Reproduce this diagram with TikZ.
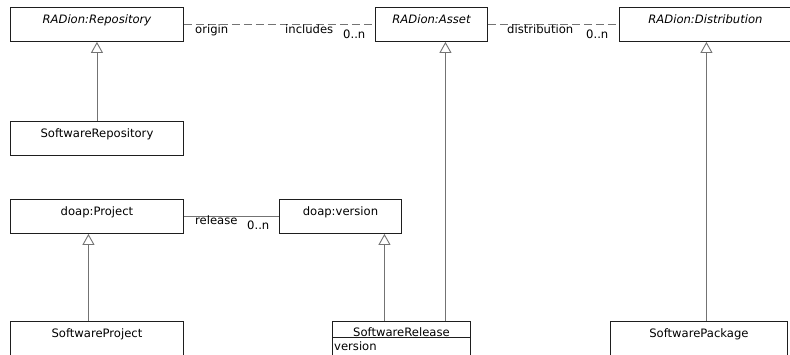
\documentclass[tikz,border=0pt]{standalone}
\usepackage{fontspec}
\setmainfont{DejaVu Sans}
\usetikzlibrary{arrows.meta}
\definecolor{linegray}{RGB}{115,115,115}
\definecolor{boxline}{RGB}{30,30,30}
\begin{document}
\begin{tikzpicture}[x=1pt,y=-1pt,
  every node/.style={font=\fontsize{11.6}{13}\selectfont, text=black},
  cls/.style={draw=boxline, line width=0.9pt, rectangle, inner sep=0pt,
    anchor=north west, text height=16pt, text depth=18pt, align=center},
  abstr/.style={cls, font=\fontsize{11.6}{13}\selectfont\itshape},
  gen/.style={draw=linegray, line width=0.9pt,
    -{Triangle[open, width=12pt, length=11pt, fill=white]}},
  assoc/.style={draw=linegray, line width=0.9pt, dash pattern=on 8pt off 4pt},
  rel/.style={draw=linegray, line width=0.9pt},
  lbl/.style={anchor=base west, inner sep=0pt}
]
\useasboundingbox (0,0) rectangle (790,354);

% classes
\node[abstr, minimum width=173pt] (repo) at (10,7) {RADion:Repository};
\node[abstr, minimum width=112pt] (asset) at (375,7) {RADion:Asset};
\node[abstr, minimum width=172pt] (dist) at (619,7) {RADion:Distribution};
\node[cls, minimum width=173pt] (swrepo) at (10,121) {SoftwareRepository};
\node[cls, minimum width=173pt] (proj) at (10,199) {doap:Project};
\node[cls, minimum width=122pt] (ver) at (279,199) {doap:version};
\node[cls, minimum width=173pt] (swproj) at (10,321) {SoftwareProject};
\node[cls, minimum width=138pt, text height=15pt, text depth=19pt] (srel) at (332,321) {SoftwareRelease};
\node[cls, minimum width=177pt] (spkg) at (610,321) {SoftwarePackage};

% attribute compartment of SoftwareRelease
\coordinate (divl) at ([yshift=-16pt]srel.north west);
\coordinate (divr) at ([yshift=-16pt]srel.north east);
\draw[draw=boxline, line width=0.9pt] (divl) -- (divr);
\node[lbl, anchor=base west] (relver) at ([xshift=2pt, yshift=-13pt]divl) {version};

% associations
\draw[assoc] (repo.east) -- (asset.west);
\draw[assoc] (asset.east) -- (dist.west);
\draw[rel] (proj.east) -- (ver.west);

\node[lbl] (lorigin) at (195,33) {origin};
\node[lbl] (lincl) at (285,33) {includes};
\node[lbl] (lm1) at (343,38) {0..n};
\node[lbl] (ldist) at (507,33) {distribution};
\node[lbl] (lm2) at (586,38) {0..n};
\node[lbl] (lrel) at (195,224) {release};
\node[lbl] (lm3) at (247,229) {0..n};

% generalizations
\coordinate (repofoot) at (repo.south);
\coordinate (assetfoot) at ([xshift=14pt]asset.south);
\coordinate (distfoot) at ([xshift=1pt]dist.south);
\coordinate (projfoot) at ([xshift=-8.5pt]proj.south);
\coordinate (verfoot) at ([xshift=44pt]ver.south);

\draw[gen] (swrepo.north -| repofoot) -- (repofoot);
\draw[gen] (srel.north -| assetfoot) -- (assetfoot);
\draw[gen] (spkg.north -| distfoot) -- (distfoot);
\draw[gen] (swproj.north -| projfoot) -- (projfoot);
\draw[gen] (srel.north -| verfoot) -- (verfoot);
\end{tikzpicture}
\end{document}
